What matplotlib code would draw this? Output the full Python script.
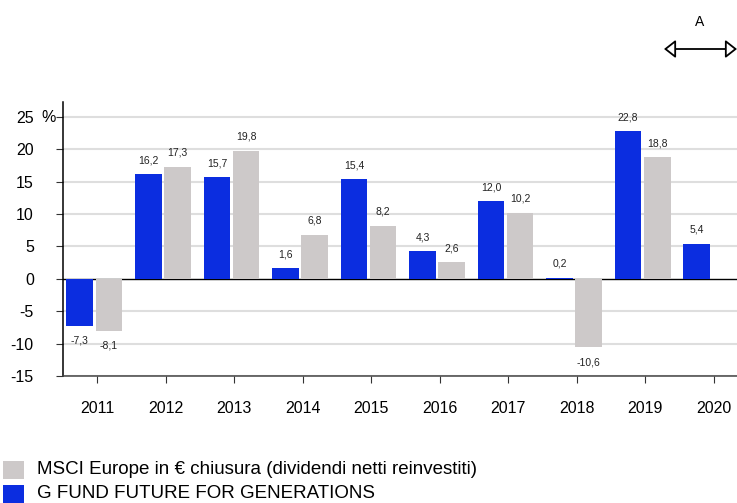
import matplotlib
matplotlib.use("Agg")
import matplotlib.pyplot as plt
from matplotlib.patches import FancyArrowPatch, Rectangle
import numpy as np

plt.rcParams['font.family'] = ['Liberation Sans', 'DejaVu Sans']

years = ["2011", "2012", "2013", "2014", "2015", "2016", "2017", "2018", "2019", "2020"]
fund = [-7.3, 16.2, 15.7, 1.6, 15.4, 4.3, 12.0, 0.2, 22.8, 5.4]
msci = [-8.1, 17.3, 19.8, 6.8, 8.2, 2.6, 10.2, -10.6, 18.8, None]
fund_name = "G FUND FUTURE FOR GENERATIONS"
msci_name = "MSCI Europe in € chiusura (dividendi netti reinvestiti)"
yticks = [-15, -10, -5, 0, 5, 10, 15, 20, 25]

BLUE = "#0B2DE0"
GRAY = "#CDC9C9"

W, H = 737, 503
fig = plt.figure(figsize=(W / 100, H / 100), dpi=100)
ax = fig.add_axes([63 / W, 127 / H, (737 - 63) / W, 274 / H])

x = np.arange(len(years))
bw = 0.39
off_f, off_m = -0.25, 0.175

fv = np.array(fund, dtype=float)
mv = np.array([np.nan if v is None else v for v in msci], dtype=float)

ax.bar(x + off_f, fv, bw, color=BLUE, edgecolor="none", zorder=3)
mask = ~np.isnan(mv)
ax.bar(x[mask] + off_m, mv[mask], bw, color=GRAY, edgecolor="none", zorder=3)

def fmt(v):
    return f"{v:.1f}".replace(".", ",")

for vals, off in ((fv, off_f), (mv, off_m)):
    for xi, v in zip(x, vals):
        if np.isnan(v):
            continue
        dy = 10 if v >= 0 else -10.5
        ax.annotate(fmt(v), (xi + off, v), xytext=(0, dy), textcoords="offset points",
                    ha="center", va="center", fontsize=7.5, color="#222222")

ax.set_ylim(-15, 27.3)
ax.set_xlim(-0.496, 9.34)
ax.set_yticks(yticks)
ax.set_yticklabels([str(t) for t in yticks], fontsize=11.5)
ax.set_xticks(x)
ax.set_xticklabels(years, fontsize=11.5)
ax.tick_params(axis="y", length=5, pad=16, color="#333333")
ax.tick_params(axis="x", length=5, pad=13, color="#333333")

for t in yticks:
    if t != 0:
        ax.axhline(t, color="#DEDEDE", linewidth=1.5, zorder=1)
ax.axhline(0, color="black", linewidth=1.0, zorder=2.5)

for s in ("top", "right"):
    ax.spines[s].set_visible(False)
ax.spines["left"].set_color("black")
ax.spines["left"].set_linewidth(1.1)
ax.spines["bottom"].set_color("#444444")
ax.spines["bottom"].set_linewidth(1.1)

fig.text(49 / W, (H - 117) / H, "%", ha="center", va="center", fontsize=11.5)

# legend
fig.patches.append(Rectangle((3 / W, (H - 479) / H), 21 / W, 18 / H, transform=fig.transFigure,
                             facecolor=GRAY, edgecolor="none"))
fig.patches.append(Rectangle((3 / W, (H - 503) / H), 21 / W, 18 / H, transform=fig.transFigure,
                             facecolor=BLUE, edgecolor="none"))
fig.text(37 / W, (H - 469) / H, msci_name, fontsize=13.5, va="center", ha="left")
fig.text(37 / W, (H - 493) / H, fund_name, fontsize=13.5, va="center", ha="left")

# top right annotation
fig.text(700 / W, (H - 22) / H, "A", fontsize=10, ha="center", va="center")
arr = FancyArrowPatch((664 / W, (H - 49) / H), (737 / W, (H - 49) / H), transform=fig.transFigure,
                      arrowstyle="<|-|>,head_length=7,head_width=5.5", facecolor="white",
                      edgecolor="black", linewidth=1.3, mutation_scale=1, shrinkA=0, shrinkB=0)
fig.patches.append(arr)

fig.savefig("out.png", dpi=100)
